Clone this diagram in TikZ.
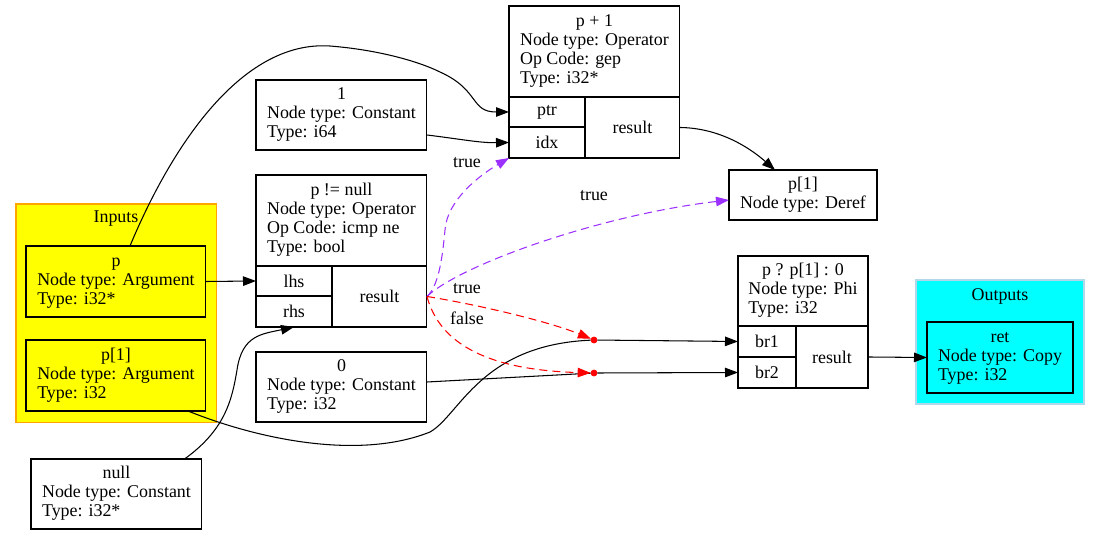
\documentclass[tikz,border=0pt]{standalone}
\usepackage{fontspec}
\setmainfont{Liberation Serif}
\usepackage{tikz}
\usetikzlibrary{arrows.meta,positioning,shapes,calc}
\definecolor{ctrlpurple}{HTML}{9B30FF}
\definecolor{outblue}{HTML}{B0D8E8}
\definecolor{inyellow}{HTML}{FFFF00}
\definecolor{inorange}{HTML}{FFA500}
\definecolor{outcyan}{HTML}{00FFFF}
\newcommand{\gvfont}{\fontsize{10.2pt}{10.8pt}\selectfont}
\newcommand{\rectext}[2]{\begin{tabular}{@{}l@{}}\multicolumn{1}{@{}c@{}}{#1}\\#2\end{tabular}}

\begin{document}
\begin{tikzpicture}[x=0.02cm,y=-0.02cm,font=\gvfont,
	>={Triangle[length=0.26cm,width=0.19cm]},
	box/.style={rectangle,draw,line width=0.6pt,inner sep=0pt,outer sep=0pt},
	cell/.style={box,minimum width=1.52cm,minimum height=0.61cm},
	cluster/.style={rectangle,line width=0.6pt,inner sep=0pt,outer sep=0pt,anchor=north west},
	flow/.style={->,line width=0.6pt},
	ctrledge/.style={->,line width=0.6pt,dash pattern=on 0.16cm off 0.1cm},
	dot/.style={circle,fill=red,draw=red,inner sep=0pt,minimum size=0.12cm}]

    \useasboundingbox (0,0) rectangle (1100,535);

    % clusters
    \node[cluster,fill=inyellow,draw=inorange,minimum width=4.02cm,minimum height=4.38cm] (inputs) at (16,204) {};
    \node (inputslbl) at (116,219) {Inputs};
    \node[cluster,fill=outcyan,draw=outblue,minimum width=3.36cm,minimum height=2.48cm] (outputs) at (916,280) {};
    \node (outputslbl) at (1000,296) {Outputs};

    % inputs
    \node[box,fill=inyellow,minimum width=3.6cm,minimum height=1.42cm,anchor=north west] (argp) at (26,246) {\rectext{p}{Node type: Argument\\Type: i32*}};
    \node[box,fill=inyellow,minimum width=3.6cm,minimum height=1.42cm,anchor=north west] (argp1) at (26,340) {\rectext{p[1]}{Node type: Argument\\Type: i32}};
    \node[box,minimum width=3.42cm,minimum height=1.4cm,anchor=north west] (cnull) at (31,459) {\rectext{null}{Node type: Constant\\Type: i32*}};

    % constants
    \node[box,minimum width=3.42cm,minimum height=1.4cm,anchor=north west] (cone) at (256,80) {\rectext{1}{Node type: Constant\\Type: i64}};
    \node[box,minimum width=3.42cm,minimum height=1.4cm,anchor=north west] (czero) at (256,352) {\rectext{0}{Node type: Constant\\Type: i32}};

    % p + 1
    \node[box,minimum width=3.42cm,minimum height=1.82cm,anchor=north west] (padd) at (509,6) {\rectext{p + 1}{Node type: Operator\\Op Code: gep\\Type: i32*}};
    \node[cell,minimum height=0.6cm,below right=0pt of padd.south west] (padd-ptr) {ptr};
    \node[cell,minimum height=0.62cm,below=0pt of padd-ptr] (padd-idx) {idx};
    \node[box,minimum width=1.9cm,minimum height=1.22cm,below right=0pt of padd-ptr.north east] (padd-res) {result};

    % p != null
    \node[box,minimum width=3.42cm,minimum height=1.82cm,anchor=north west] (pne) at (256,175) {\rectext{p != null}{Node type: Operator\\Op Code: icmp ne\\Type: bool}};
    \node[cell,minimum height=0.6cm,below right=0pt of pne.south west] (pne-lhs) {lhs};
    \node[cell,minimum height=0.62cm,below=0pt of pne-lhs] (pne-rhs) {rhs};
    \node[box,minimum width=1.9cm,minimum height=1.22cm,below right=0pt of pne-lhs.north east] (pne-res) {result};

    % deref
    \node[box,minimum width=2.96cm,minimum height=1.0cm,anchor=north west] (deref) at (729,170) {\rectext{p[1]}{Node type: Deref}};

    % phi
    \node[box,minimum width=2.6cm,minimum height=1.4cm,anchor=north west] (phi) at (738,256) {\rectext{p ? p[1] : 0}{Node type: Phi\\Type: i32}};
    \node[cell,minimum width=1.16cm,minimum height=0.62cm,below right=0pt of phi.south west] (phi-br1) {br1};
    \node[cell,minimum width=1.16cm,minimum height=0.62cm,below=0pt of phi-br1] (phi-br2) {br2};
    \node[box,minimum width=1.44cm,minimum height=1.24cm,below right=0pt of phi-br1.north east] (phi-res) {result};

    % output
    \node[box,fill=outcyan,minimum width=2.92cm,minimum height=1.42cm,anchor=north west] (ret) at (927,322) {\rectext{ret}{Node type: Copy\\Type: i32}};

    \node[dot] (pt1) at (594,340) {};
    \node[dot] (pt2) at (594,373) {};

    % data edges
    \draw[flow] ($(argp.north)+(14,0)$) .. controls (170,150) and (240,40) .. (330,46)
	.. controls (380,50) and (420,62) .. (440,72) .. controls (480,90) and (470,112) .. (padd-ptr.west);
    \draw[flow] ($(cone.east)+(0,20)$) .. controls (460,139) and (480,143) .. (padd-idx.west);
    \draw[flow] (argp.east) -- (pne-lhs.west);
    \draw[flow] ($(cnull.north)+(68,0)$) .. controls (225,430) and (232,400) .. (237,370)
	.. controls (242,335) and (262,334) .. (pne-rhs.south);
    \draw[line width=0.6pt] ($(argp1.south)+(72,0)$) .. controls (260,440) and (360,460) .. (430,432)
	.. controls (460,415) and (480,345) .. (pt1);
    \draw[line width=0.6pt] ($(czero.east)+(0,-5)$) -- (pt2);
    \draw[flow] (pt1) -- (phi-br1.west);
    \draw[flow] (pt2) -- (phi-br2.west);
    \draw[flow] (padd-res.east) .. controls (720,128) and (750,148) .. ($(deref.north)+(-28,0)$);
    \draw[flow] (phi-res.east) -- (ret.west);

    % control edges
    \draw[ctrledge,ctrlpurple] (pne-res.east) .. controls (440,285) and (443,250) .. (445,230)
	.. controls (447,200) and (480,175) .. (padd-idx.south west);
    \draw[ctrledge,ctrlpurple] (pne-res.east) .. controls (460,265) and (600,215) .. ($(deref.west)+(0,5)$);
    \draw[ctrledge,red] (pne-res.east) .. controls (480,305) and (550,322) .. (pt1);
    \draw[ctrledge,red] (pne-res.east) .. controls (440,345) and (490,370) .. (pt2);
    \node (lbl-idx) at (467,163) {true};
    \node (lbl-deref) at (594,196) {true};
    \node (lbl-pt1) at (467,289) {true};
    \node (lbl-pt2) at (467,318) {false};

\end{tikzpicture}
\end{document}
